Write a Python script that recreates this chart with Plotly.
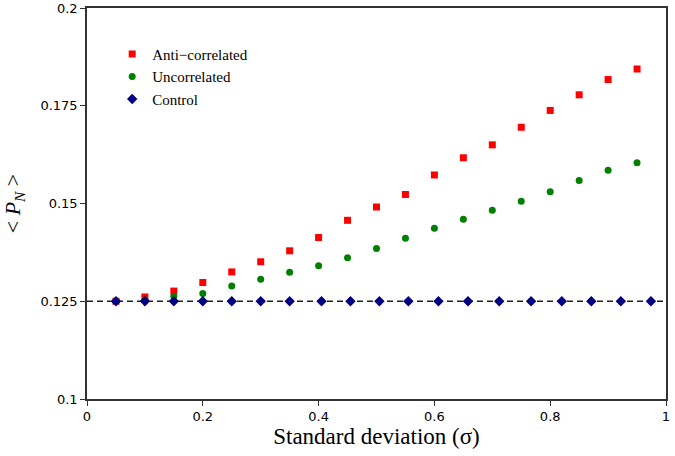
import plotly.graph_objects as go

sigma = [0.05, 0.10, 0.15, 0.20, 0.25, 0.30, 0.35, 0.40, 0.45, 0.50,
         0.55, 0.60, 0.65, 0.70, 0.75, 0.80, 0.85, 0.90, 0.95]
anti = [0.1250, 0.1261, 0.1276, 0.1298, 0.1325, 0.1351, 0.1379, 0.1413, 0.1457, 0.1491,
        0.1523, 0.1573, 0.1617, 0.1650, 0.1695, 0.1738, 0.1778, 0.1817, 0.1844]
uncorr = [0.1250, 0.1253, 0.1263, 0.1270, 0.1289, 0.1306, 0.1324, 0.1341, 0.1361, 0.1385,
          0.1411, 0.1437, 0.1460, 0.1483, 0.1506, 0.1530, 0.1559, 0.1585, 0.1604]
sigma_control = [0.05, 0.10, 0.15, 0.20, 0.25, 0.30, 0.35, 0.405, 0.455, 0.505,
                 0.555, 0.607, 0.658, 0.712, 0.767, 0.82, 0.871, 0.922, 0.974]
control = [0.125] * 19
baseline_x = [0, 1]
baseline_y = [0.125, 0.125]

x_ticks = [0, 0.2, 0.4, 0.6, 0.8, 1]
x_tick_text = ["0", "0.2", "0.4", "0.6", "0.8", "1"]
y_ticks = [0.1, 0.125, 0.15, 0.175, 0.2]
y_tick_text = ["0.1", "0.125", "0.15", "0.175", "0.2"]

fig = go.Figure()
fig.add_trace(go.Scatter(x=baseline_x, y=baseline_y, mode="lines",
                         line=dict(color="#222222", width=1.6, dash="6px,4px"),
                         showlegend=False, hoverinfo="skip"))
fig.add_trace(go.Scatter(x=sigma, y=anti, mode="markers", name="Anti\u2212correlated",
                         marker=dict(symbol="square", size=7, color="#ff0000")))
fig.add_trace(go.Scatter(x=sigma, y=uncorr, mode="markers", name="Uncorrelated",
                         marker=dict(symbol="circle", size=7, color="#008000")))
fig.add_trace(go.Scatter(x=sigma_control, y=control, mode="markers", name="Control",
                         marker=dict(symbol="diamond", size=8, color="#000080")))

fig.update_layout(
    width=675, height=456,
    margin=dict(l=87, r=9, t=8, b=57, autoexpand=False),
    plot_bgcolor="white", paper_bgcolor="white",
    font=dict(family="DejaVu Sans", size=13, color="black"),
    legend=dict(x=0.0435, y=0.924, xanchor="left", yanchor="top",
                bgcolor="rgba(0,0,0,0)", borderwidth=0,
                font=dict(family="Liberation Serif", size=15, color="black"),
                itemsizing="trace", tracegroupgap=0),
    showlegend=True,
)
fig.update_xaxes(range=[0, 1], tickvals=x_ticks, ticktext=x_tick_text,
                 showgrid=False, zeroline=False, showline=True, linecolor="#333333",
                 linewidth=1.5, mirror=True, ticks="outside", ticklen=5,
                 tickcolor="#333333", tickwidth=1.2, automargin=False,
                 title=dict(text="Standard deviation (\u03c3)",
                            font=dict(family="Liberation Serif", size=23), standoff=4))
fig.update_yaxes(range=[0.1, 0.2], tickvals=y_ticks, ticktext=y_tick_text,
                 showgrid=False, zeroline=False, showline=True, linecolor="#333333",
                 linewidth=1.5, mirror=True, ticks="outside", ticklen=5,
                 tickcolor="#333333", tickwidth=1.2, automargin=False,
                 title=dict(text="&lt; <i>P</i><sub><i>N</i></sub> &gt;",
                            font=dict(family="Liberation Serif", size=22), standoff=14))

fig.write_html("out.html", config={"displayModeBar": False},
               post_script="document.body.style.margin='0';")
